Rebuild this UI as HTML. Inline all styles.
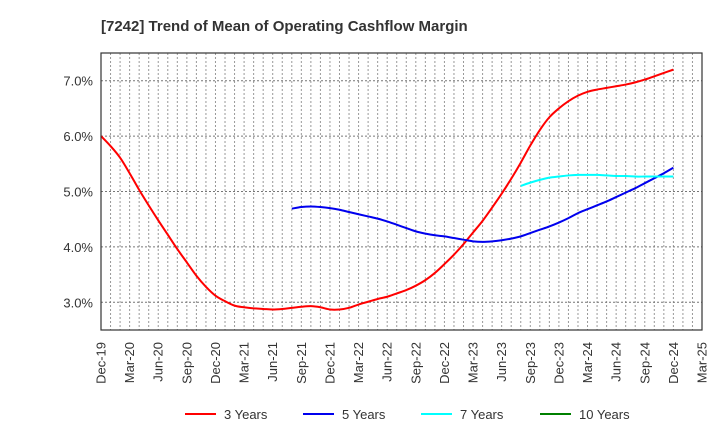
<!DOCTYPE html>
<html><head><meta charset="utf-8"><style>
body{margin:0;background:#fff;font-family:"Liberation Sans",sans-serif;}
svg text{font-family:"Liberation Sans",sans-serif;}
</style></head><body>
<svg id="c" width="720" height="440" xmlns="http://www.w3.org/2000/svg">
<text x="101" y="31" font-size="15" font-weight="bold" fill="#333">[7242]  Trend of Mean of Operating Cashflow Margin</text>
<g id="grid"></g><g id="series"></g><g id="axes"></g>
<g id="legend"></g>
</svg>
<script>
const xLabels=["Dec-19","Mar-20","Jun-20","Sep-20","Dec-20","Mar-21","Jun-21","Sep-21","Dec-21","Mar-22","Jun-22","Sep-22","Dec-22","Mar-23","Jun-23","Sep-23","Dec-23","Mar-24","Jun-24","Sep-24","Dec-24","Mar-25"];
const yTicks=[3.0,4.0,5.0,6.0,7.0];
const y3=[6.00,5.82,5.61,5.33,5.03,4.75,4.48,4.22,3.96,3.72,3.48,3.28,3.12,3.02,2.94,2.91,2.89,2.88,2.87,2.88,2.90,2.92,2.93,2.91,2.87,2.87,2.90,2.96,3.01,3.06,3.10,3.16,3.22,3.30,3.40,3.53,3.69,3.86,4.05,4.26,4.47,4.71,4.96,5.23,5.52,5.83,6.11,6.34,6.50,6.63,6.73,6.80,6.84,6.87,6.90,6.93,6.97,7.02,7.08,7.14,7.20];
const y5Start=20;
const y5=[4.69,4.72,4.73,4.72,4.70,4.67,4.63,4.59,4.55,4.51,4.46,4.40,4.34,4.28,4.24,4.21,4.19,4.16,4.13,4.10,4.09,4.10,4.12,4.15,4.19,4.25,4.31,4.37,4.44,4.52,4.61,4.68,4.75,4.82,4.90,4.98,5.06,5.15,5.24,5.33,5.43];
const y7Start=44;
const y7=[5.10,5.16,5.21,5.25,5.27,5.29,5.30,5.30,5.30,5.29,5.28,5.28,5.27,5.27,5.27,5.27,5.27];
const y10=[];
const L=101,R=702,T=53,B=330,yMin=2.5,yMax=7.5,nMonths=63;
const NS="http://www.w3.org/2000/svg";
const X=i=>L+(R-L)*i/nMonths;
const Y=v=>B-(B-T)*(v-yMin)/(yMax-yMin);
function mk(t,a,p){const e=document.createElementNS(NS,t);for(const k in a)e.setAttribute(k,a[k]);p.appendChild(e);return e;}
const grid=document.getElementById('grid'),axes=document.getElementById('axes'),ser=document.getElementById('series'),leg=document.getElementById('legend');
for(let m=1;m<nMonths;m++){const g=mk('line',{x1:X(m),x2:X(m),y1:T,y2:B,stroke:'#999','stroke-width':1,'stroke-dasharray':'2,2'},grid);

}
yTicks.forEach(v=>{const g=mk('line',{x1:L,x2:R,y1:Y(v),y2:Y(v),stroke:'#777','stroke-width':1,'stroke-dasharray':'2,2'},grid);


const t=mk('text',{x:L-8,y:Y(v)+5,'text-anchor':'end','font-size':13,fill:'#333'},axes);t.textContent=v.toFixed(1)+'%';

});
const fr=mk('rect',{x:L,y:T,width:R-L,height:B-T,fill:'none',stroke:'#333','stroke-width':1.2},axes);


xLabels.forEach((s,q)=>{const x=X(q*3)+4.5;const t=mk('text',{x:0,y:0,transform:`translate(${x},342) rotate(-90)`,'text-anchor':'end','font-size':13,fill:'#333'},axes);t.textContent=s;

});
function path(vals,start){const p=vals.map((v,i)=>[X(start+i),Y(v)]);if(p.length<2)return '';let d=`M${p[0][0]},${p[0][1]}`;
for(let i=0;i<p.length-1;i++){const p0=p[i-1]||p[i],p1=p[i],p2=p[i+1],p3=p[i+2]||p2;
d+=` C${p1[0]+(p2[0]-p0[0])/6},${p1[1]+(p2[1]-p0[1])/6} ${p2[0]-(p3[0]-p1[0])/6},${p2[1]-(p3[1]-p1[1])/6} ${p2[0]},${p2[1]}`;}return d;}
[[y3,0,'#ff0000','series-3-years'],[y5,y5Start,'#0000ee','series-5-years'],[y7,y7Start,'#00ffff','series-7-years'],[y10,0,'#008000','series-10-years']].forEach(([v,s,c,n])=>{
if(!v.length)return;const e=mk('path',{d:path(v,s),fill:'none',stroke:c,'stroke-width':2},ser);

});
[['3 Years','#ff0000',185],['5 Years','#0000ee',303],['7 Years','#00ffff',421],['10 Years','#008000',540]].forEach(([n,c,x])=>{
const l=mk('line',{x1:x,x2:x+31,y1:414,y2:414,stroke:c,'stroke-width':2},leg);


const t=mk('text',{x:x+39,y:419,'font-size':13,fill:'#333'},leg);t.textContent=n;

});
</script>
</body></html>
